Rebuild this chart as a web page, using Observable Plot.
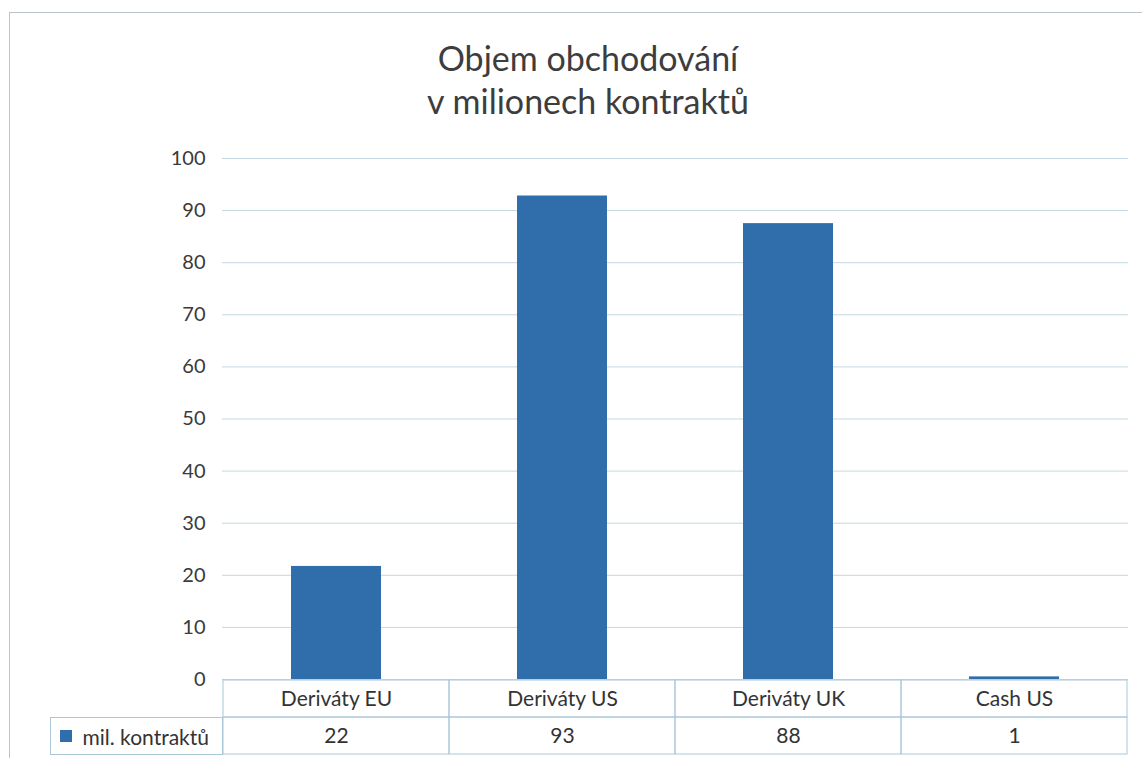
<!DOCTYPE html>
<html>
<head>
<meta charset="utf-8">
<script src="https://cdn.jsdelivr.net/npm/d3@7"></script>
<script src="https://cdn.jsdelivr.net/npm/@observablehq/plot@0.6"></script>
<style>
  html, body { margin: 0; padding: 0; background: #fff; width: 1142px; height: 758px; overflow: hidden; }
  body { position: relative; font-family: Lato, "Open Sans", sans-serif; }
  #frame { position: absolute; left: 9px; top: 12px; width: 1200px; height: 800px; border: 1.5px solid #b7c4cc; box-sizing: border-box; }
  #title { position: absolute; top: 36px; left: 338px; width: 500px; text-align: center; font-size: 34px; line-height: 43px; color: #3d3d3d; }
  #chart { position: absolute; left: 0; top: 140px; }
  #table { position: absolute; left: 0; top: 679px; }
  #legendcell { position: absolute; left: 50px; top: 717px; width: 173px; height: 38px; border: 1px solid #a9c8d8; box-sizing: border-box; display: flex; align-items: center; padding-left: 9px; overflow: hidden; }
  #legendcell span { margin-right: 0 !important; }
</style>
</head>
<body>
<div id="frame"></div>
<div id="title">Objem obchodování<br>v milionech kontraktů</div>
<div id="chart"></div>
<div id="table"></div>
<div id="legendcell"></div>
<script>
const categories = ["Deriváty EU", "Deriváty US", "Deriváty UK", "Cash US"];
const values = [21.7, 92.8, 87.5, 0.5];
const yTicks = [0, 10, 20, 30, 40, 50, 60, 70, 80, 90, 100];
const seriesName = "mil. kontraktů";
const barColor = "#2f6eaa";
const lineColor = "#a9c8d8";

const data = categories.map((c, i) => ({cat: c, v: values[i]}));
const rows = ["cat", "val"];
const tableData = [];
categories.forEach((c, i) => {
  tableData.push({cat: c, row: "cat", text: c});
  tableData.push({cat: c, row: "val", text: String(Math.round(values[i]))});
});

const chart = Plot.plot({
  width: 1142, height: 553,
  marginTop: 18, marginBottom: 14, marginLeft: 222, marginRight: 14,
  style: {fontFamily: "Lato, 'Open Sans', sans-serif", fontSize: "20px", color: "#3a3a3a", background: "transparent"},
  x: {domain: categories, paddingInner: 0.6, paddingOuter: 0.3, axis: null},
  y: {domain: [0, 100], axis: null},
  marks: [
    Plot.ruleY(yTicks, {stroke: "#c3d8e2", strokeWidth: 1}),
    Plot.barY(data, {x: "cat", y: "v", fill: barColor}),
    Plot.axisY({ticks: yTicks, tickSize: 0, tickPadding: 17, label: null, fontSize: 20})
  ]
});
document.getElementById("chart").appendChild(chart);

const table = Plot.plot({
  width: 1142, height: 76,
  marginTop: 1, marginBottom: 1, marginLeft: 222, marginRight: 14,
  style: {fontFamily: "Lato, 'Open Sans', sans-serif", fontSize: "21px", color: "#333", background: "transparent"},
  x: {domain: categories, padding: 0, axis: null},
  y: {domain: rows, padding: 0, axis: null},
  marks: [
    Plot.cell(tableData, {x: "cat", y: "row", fill: "none", stroke: lineColor, inset: 0}),
    Plot.text(tableData, {x: "cat", y: "row", text: "text", fontSize: 21, fill: "#333"})
  ]
});
document.getElementById("table").appendChild(table);

const legend = Plot.legend({
  color: {type: "categorical", domain: [seriesName], range: [barColor]},
  legend: "swatches",
  swatchSize: 12,
  style: {fontFamily: "Lato, 'Open Sans', sans-serif", fontSize: "21px", color: "#333", margin: "0"}
});
document.getElementById("legendcell").appendChild(legend);
</script>
</body>
</html>
